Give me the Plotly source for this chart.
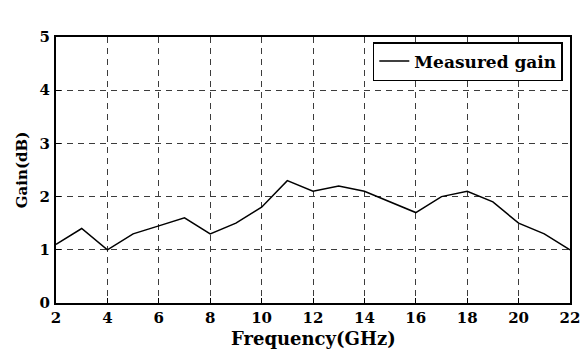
import plotly.graph_objects as go

# Measured antenna gain across the band
freq_ghz = [2, 3, 4, 5, 6, 7, 8, 9, 10, 11, 12, 13, 14, 15, 16, 17, 18, 19, 20, 21, 22]
gain_db = [1.1, 1.4, 1.0, 1.3, 1.45, 1.6, 1.3, 1.5, 1.8, 2.3, 2.1, 2.2, 2.1, 1.9, 1.7,
           2.0, 2.1, 1.9, 1.5, 1.3, 1.0]

x_ticks = [2, 4, 6, 8, 10, 12, 14, 16, 18, 20, 22]
y_ticks = [0, 1, 2, 3, 4, 5]

FONT = dict(family="DejaVu Serif", size=15, color="black", weight="bold")

fig = go.Figure()
fig.add_trace(go.Scatter(
    x=freq_ghz, y=gain_db, mode="lines", name="Measured gain",
    line=dict(color="black", width=1.5),
))

axis_common = dict(
    showline=True, linecolor="black", linewidth=2, mirror=True,
    showgrid=True, gridcolor="#3c3c3c", gridwidth=1, griddash="6px,5px",
    zeroline=False, ticks="inside", ticklen=5, tickcolor="black", tickwidth=1,
    tickfont=FONT, automargin=False,
)

fig.update_xaxes(range=[2, 22], tickvals=x_ticks, ticklabelstandoff=0, **axis_common)
fig.update_yaxes(
    range=[0, 5], tickvals=y_ticks, ticklabelstandoff=1,
    title=dict(text="Gain(dB)", font=dict(FONT, size=15), standoff=8),
    **axis_common,
)

# x-axis title placed just under the tick labels
fig.add_annotation(
    text="Frequency(GHz)", xref="paper", yref="paper", x=0.5, y=-0.135,
    xanchor="center", yanchor="middle", showarrow=False,
    font=dict(FONT, size=18),
)

fig.update_layout(
    width=582, height=351,
    margin=dict(l=56, r=12, t=37, b=48),
    paper_bgcolor="white", plot_bgcolor="white",
    font=FONT,
    showlegend=True,
    legend=dict(
        x=0.986, y=0.981, xanchor="right", yanchor="top",
        bgcolor="white", bordercolor="black", borderwidth=1.5,
        font=dict(FONT, size=17), itemwidth=30,
    ),
)

fig.write_html("out.html")
